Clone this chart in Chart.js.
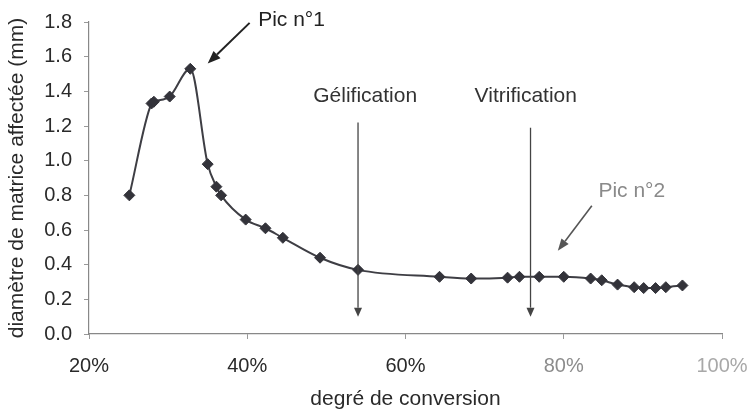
<!DOCTYPE html>
<html>
<head>
<meta charset="utf-8">
<script src="https://cdn.jsdelivr.net/npm/chart.js@4/dist/chart.umd.min.js"></script>
<style>
  html, body { margin: 0; padding: 0; background: #ffffff; }
  #wrap { width: 752px; height: 416px; }
</style>
</head>
<body>
<div id="wrap"><canvas id="c" width="752" height="416"></canvas></div>
<script>
// ---- data ----
const conversionPct = [25.1, 27.9, 28.2, 30.2, 32.8, 35.0, 36.1, 36.7, 39.8, 42.3, 44.5, 49.2, 54.0,
                       64.3, 68.3, 72.9, 74.4, 76.9, 80.0, 83.4, 84.8, 86.8, 88.9, 90.1, 91.6, 92.9, 95.0];
const diameterMm    = [0.80, 1.33, 1.34, 1.37, 1.53, 0.98, 0.85, 0.80, 0.66, 0.61, 0.555, 0.44, 0.37,
                       0.33, 0.32, 0.325, 0.33, 0.33, 0.33, 0.32, 0.31, 0.285, 0.27, 0.265, 0.265, 0.27, 0.28];
const xTicks = [20, 40, 60, 80, 100];
const yTicks = [0, 0.2, 0.4, 0.6, 0.8, 1.0, 1.2, 1.4, 1.6, 1.8];
const xTitle = 'degré de conversion';
const yTitle = 'diamètre de matrice affectée (mm)';

// annotation texts and their anchor points (in data units)
const noteTexts  = ['Pic n°1', 'Gélification', 'Vitrification', 'Pic n°2'];
const noteX      = [45.6, 54.9, 75.2, 88.6];
const noteY      = [1.81, 1.37, 1.37, 0.825];
// arrows: start and end (data units)
const arrowFromX = [40.3, 54.0, 75.8, 83.55];
const arrowFromY = [1.795, 1.22, 1.19, 0.74];
const arrowToX   = [35.0, 54.0, 75.8, 79.25];
const arrowToY   = [1.56, 0.10, 0.10, 0.48];

const FONT = "'Liberation Sans', Arial, Helvetica, sans-serif";

const notesPlugin = {
  id: 'notes',
  afterDraw(chart) {
    const ctx = chart.ctx;
    const xs = chart.scales.x, ys = chart.scales.y;
    const arrowStyle = [
      { w: 2, color: '#222', hl: 13, hw: 10 },
      { w: 1.3, color: '#444', hl: 9, hw: 8 },
      { w: 1.3, color: '#444', hl: 9, hw: 8 },
      { w: 1.6, color: '#555', hl: 12, hw: 9 }
    ];
    ctx.save();
    arrowFromX.forEach((fx, i) => {
      const x1 = xs.getPixelForValue(fx), y1 = ys.getPixelForValue(arrowFromY[i]);
      const x2 = xs.getPixelForValue(arrowToX[i]), y2 = ys.getPixelForValue(arrowToY[i]);
      const st = arrowStyle[i];
      const ang = Math.atan2(y2 - y1, x2 - x1);
      const bx = x2 - st.hl * Math.cos(ang), by = y2 - st.hl * Math.sin(ang);
      ctx.strokeStyle = st.color; ctx.fillStyle = st.color; ctx.lineWidth = st.w;
      ctx.beginPath(); ctx.moveTo(x1, y1); ctx.lineTo(bx, by); ctx.stroke();
      const px = -Math.sin(ang) * st.hw / 2, py = Math.cos(ang) * st.hw / 2;
      ctx.beginPath();
      ctx.moveTo(x2, y2);
      ctx.lineTo(bx + px, by + py);
      ctx.lineTo(bx - px, by - py);
      ctx.closePath(); ctx.fill();
    });
    const noteColors = ['#222', '#333', '#333', '#8a8a8a'];
    ctx.font = '21px ' + FONT;
    ctx.textAlign = 'center';
    ctx.textBaseline = 'middle';
    noteTexts.forEach((t, i) => {
      ctx.fillStyle = noteColors[i];
      ctx.fillText(t, xs.getPixelForValue(noteX[i]), ys.getPixelForValue(noteY[i]));
    });
    ctx.restore();
  }
};

const points = conversionPct.map((v, i) => ({ x: v, y: diameterMm[i] }));

new Chart(document.getElementById('c'), {
  type: 'scatter',
  data: {
    datasets: [{
      data: points,
      showLine: true,
      cubicInterpolationMode: 'monotone',
      borderColor: '#3e3e44',
      borderWidth: 2,
      pointStyle: 'rectRot',
      pointRadius: 5.5,
      pointBackgroundColor: '#33333a',
      pointBorderColor: '#33333a',
      pointBorderWidth: 1
    }]
  },
  options: {
    responsive: false,
    animation: false,
    layout: { padding: { top: 22, right: 30, bottom: 0, left: 0 } },
    plugins: { legend: { display: false }, tooltip: { enabled: false } },
    scales: {
      x: {
        type: 'linear',
        min: 20, max: 100,
        afterBuildTicks: (s) => { s.ticks = xTicks.map(v => ({ value: v })); },
        afterFit: (s) => { s.height = 82; s.paddingLeft = 0; s.paddingRight = 0; },
        grid: { display: true, drawOnChartArea: false, drawTicks: true, tickLength: 5, color: '#999' },
        border: { display: true, color: '#888', width: 1.2 },
        ticks: {
          padding: 15,
          font: { family: FONT, size: 20 },
          color: (c) => c.tick && c.tick.value >= 100 ? '#a8a8a8' : (c.tick && c.tick.value >= 80 ? '#8c8c8c' : '#2a2a2a'),
          callback: (v) => v + '%'
        },
        title: { display: true, text: xTitle, color: '#2a2a2a', font: { family: FONT, size: 21 }, padding: { top: 0, bottom: 4 } }
      },
      y: {
        min: 0, max: 1.8,
        afterBuildTicks: (s) => { s.ticks = yTicks.map(v => ({ value: v })); },
        afterFit: (s) => { s.width = 89; s.paddingTop = 0; s.paddingBottom = 0; },
        grid: { display: true, drawOnChartArea: false, drawTicks: true, tickLength: 5, color: '#999' },
        border: { display: true, color: '#888', width: 1.2 },
        ticks: {
          padding: 12,
          font: { family: FONT, size: 20 },
          color: '#2a2a2a',
          callback: (v) => Number(v).toFixed(1)
        },
        title: { display: true, text: yTitle, color: '#2a2a2a', font: { family: FONT, size: 21 }, padding: { top: 5, bottom: 0 } }
      }
    }
  },
  plugins: [notesPlugin]
});
</script>
</body>
</html>
